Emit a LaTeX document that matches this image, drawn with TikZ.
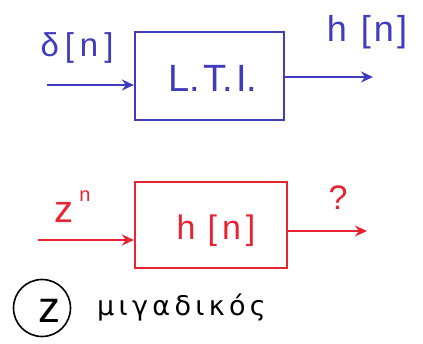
\documentclass[tikz,border=0pt]{standalone}
\usepackage{fontspec}
\setmainfont{Liberation Sans}
\newfontfamily\grfont[LetterSpace=16]{DejaVu Sans}
\usetikzlibrary{arrows.meta}
\definecolor{penblue}{RGB}{65,60,190}
\definecolor{penred}{RGB}{232,35,50}
\tikzset{
  sysbox/.style={draw, line width=2.2pt, inner sep=0pt},
  sig/.style={line width=2.2pt, -{Stealth[length=12pt,width=11pt]}},
  lbl/.style={inner sep=0pt},
}
\begin{document}
\begin{tikzpicture}[x=1pt,y=-1pt]
\useasboundingbox (0,0) rectangle (423,344);
% blue system
\begin{scope}[penblue]
\node[sysbox, minimum width=149pt, minimum height=88pt] (lti) at (209.5,76) {};
\node[lbl, font=\fontsize{38}{42}\selectfont] (ltitext) at (213,78) {L.\hspace{3pt}T.\hspace{3pt}I.};
\coordinate (in1) at (47,85);
\coordinate (out1) at (373,77);
\draw[sig] (in1) -- (in1 -| lti.west);
\draw[sig] (lti.east |- out1) -- (out1);
\node[lbl, font=\fontsize{33}{36}\selectfont\addfontfeature{LetterSpace=18}] (delta) at (77,48) {δ[n]};
\node[lbl, font=\fontsize{36}{40}\selectfont] (hout) at (367,32) {h\hspace{14pt}[\hspace{3pt}n\hspace{3pt}]};
\end{scope}
% red system
\begin{scope}[penred]
\node[sysbox, minimum width=152pt, minimum height=86pt] (hsys) at (211,225) {};
\node[lbl, font=\fontsize{34}{38}\selectfont] (hsystext) at (216,231) {h\hspace{12pt}[\hspace{5pt}n\hspace{5pt}]};
\coordinate (in2) at (38,240);
\coordinate (out2) at (367,231);
\draw[sig] (in2) -- (in2 -| hsys.west);
\draw[sig] (hsys.east |- out2) -- (out2);
\node[lbl, font=\fontsize{38}{42}\selectfont] (zn) at (64,212) {z};
\node[lbl, font=\fontsize{20}{22}\selectfont] (znexp) at (85,196) {n};
\node[lbl, font=\fontsize{34}{38}\selectfont] (q) at (338,198) {?};
\end{scope}
% complex note
\node[draw, circle, line width=1.6pt, minimum size=57pt, inner sep=0pt] (zc) at (42,308) {};
\node[lbl, font=\fontsize{44}{48}\selectfont] (zctext) at (49,311) {z};
\node[anchor=west, inner sep=0pt, font=\grfont\fontsize{27}{30}\selectfont] (mig) at (97,308) {μιγαδικός};
\end{tikzpicture}
\end{document}
